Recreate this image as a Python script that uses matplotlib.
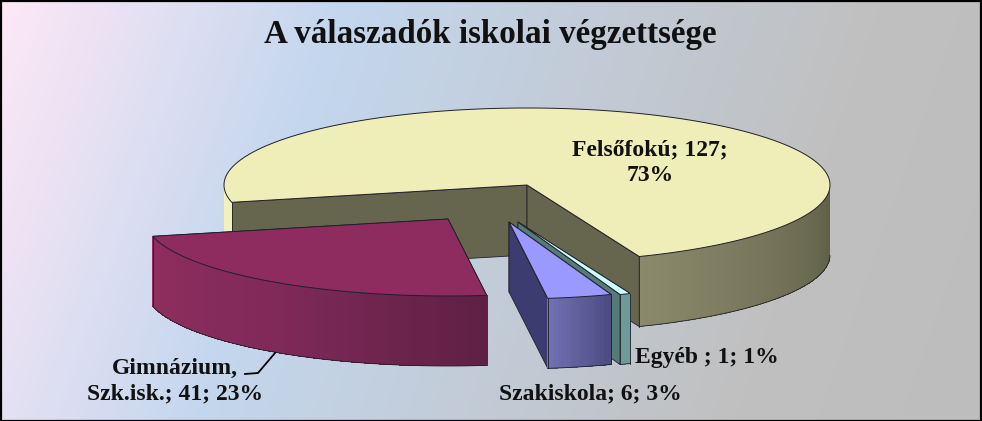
import matplotlib
matplotlib.use("Agg")
import matplotlib.pyplot as plt
from matplotlib.colors import to_rgb
from matplotlib.patches import Polygon, Rectangle
import numpy as np

# data
names = ["Felsőfokú", "Egyéb ", "Szakiskola", "Gimnázium,\nSzk.isk."]
values = [127, 1, 6, 41]
title = "A válaszadók iskolai végzettsége"

# look of each slice
top_colors = ["#EFEEB9", "#CCFFFF", "#9999FF", "#8F2C5F"]
face_colors = ["#66664F", "#557A78", "#3C3C70", "#8F2C5F"]
wall_stops = [
    [(90, "#5C5C46"), (158, "#8A896B"), (250, "#F2F0BC"), (270, "#F2F0BC")],
    [(90, "#6F9A99"), (270, "#6F9A99")],
    [(160, "#4A4A80"), (173, "#7272B5")],
    [(172, "#5E2044"), (215, "#802A59"), (257, "#8F2E5F")],
]
offsets = [(0, 0), (-9, 37), (-18, 37), (-79, 34)]
label_pos = [(650, 163), (707, 358), (590, 394), (175, 381)]
label_seps = [";\n", "; ", "; ", "; "]

# pie geometry in pixels
cx, cy = 527, 185
rx, ry = 303, 77
depth = 70
start = 257.0
line_col = "#20202A"

fig = plt.figure(figsize=(9.82, 4.21), dpi=100)
ax = fig.add_axes([0, 0, 1, 1])
ax.set_xlim(0, 982)
ax.set_ylim(421, 0)
ax.axis("off")

# background gradient
yy, xx = np.mgrid[0:421, 0:982]
u = (xx + 0.35 * yy) / (982 + 147)
stops = [0, 0.3, 0.78, 1]
stop_cols = np.array([to_rgb(c) for c in ["#FEE8F6", "#C4D7EE", "#C0C0C0", "#BDBDBD"]])
bg = np.dstack([np.interp(u, stops, stop_cols[:, i]) for i in range(3)])
ax.imshow(bg, extent=(0, 982, 421, 0), aspect="auto", zorder=0)


def rim(t, ox, oy):
    r = np.radians(t)
    return cx + ox + rx * np.sin(r), cy + oy - ry * np.cos(r)


def wall_color(t, stops):
    ts = [s[0] for s in stops]
    cols = np.array([to_rgb(s[1]) for s in stops])
    return [np.interp(t % 360, ts, cols[:, i]) for i in range(3)]


total = sum(values)
angle = start
z = 1
for i in range(len(values)):
    sweep = values[i] / total * 360
    t = np.arange(angle, angle + sweep, 0.75)
    t = np.append(t, angle + sweep)
    ox, oy = offsets[i]
    ax0, ay0 = cx + ox, cy + oy

    # the two cut faces
    for a in (angle, angle + sweep):
        x1, y1 = rim(a, ox, oy)
        pts = [(ax0, ay0), (x1, y1), (x1, y1 + depth), (ax0, ay0 + depth)]
        ax.add_patch(Polygon(pts, fc=face_colors[i], ec=line_col, lw=0.6, zorder=z))
        z += 1

    # outer wall, only the part turned to the viewer
    xs, ys = rim(t, ox, oy)
    vis = np.cos(np.radians(t)) < 0
    for j in range(len(t) - 1):
        if vis[j] and vis[j + 1]:
            pts = [(xs[j], ys[j]), (xs[j + 1], ys[j + 1]),
                   (xs[j + 1], ys[j + 1] + depth), (xs[j], ys[j] + depth)]
            c = wall_color((t[j] + t[j + 1]) / 2, wall_stops[i])
            ax.add_patch(Polygon(pts, fc=c, ec="none", antialiased=False, zorder=z))
    z += 1
    # outline of the wall bottom, drawn in runs so it is not broken up
    edges = np.flatnonzero(np.diff(vis.astype(int)))
    runs = np.split(np.arange(len(t)), edges + 1)
    for run in runs:
        if vis[run[0]] and len(run) > 1:
            ax.plot(xs[run], ys[run] + depth, color=line_col, lw=0.6, zorder=z)
    if vis[-1]:
        ax.plot([xs[-1]] * 2, [ys[-1], ys[-1] + depth], color=line_col, lw=0.6, zorder=z)
    if vis[0]:
        ax.plot([xs[0]] * 2, [ys[0], ys[0] + depth], color=line_col, lw=0.6, zorder=z)
    z += 1

    # top of the slice
    pts = [(ax0, ay0)] + list(zip(xs, ys))
    ax.add_patch(Polygon(pts, fc=top_colors[i], ec=line_col, lw=0.7, zorder=z))
    z += 1
    angle += sweep

# labels
for i in range(len(values)):
    pct = round(values[i] / total * 100)
    txt = names[i] + "; " + str(values[i]) + label_seps[i] + str(pct) + "%"
    ax.text(label_pos[i][0], label_pos[i][1], txt, ha="center", va="center",
            family="Liberation Serif", weight="bold", fontsize=17,
            color="#111111", linespacing=1.3, zorder=z)

# leader line of the Gimnázium label
ax.plot([275, 258, 245], [353, 373, 374], color="black", lw=1.3, zorder=z)

ax.text(490, 35, title, ha="center", va="center", family="Liberation Serif",
        weight="bold", fontsize=23.8, color="#111111", zorder=z)

# border
ax.add_patch(Rectangle((0.5, 0.5), 981, 420, fc="none", ec="black", lw=1.6, zorder=z + 1))

plt.savefig("out.png", dpi=100)
